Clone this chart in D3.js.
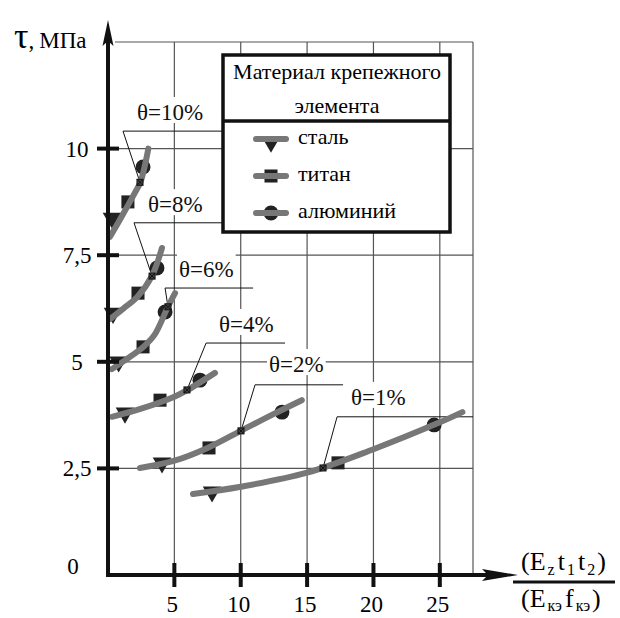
<!DOCTYPE html>
<html>
<head>
<meta charset="utf-8">
<script src="https://cdn.jsdelivr.net/npm/d3@7"></script>
<style>
  body { margin: 0; background: #fff; }
  svg text { font-family: "Liberation Serif", "Times New Roman", Times, "DejaVu Serif", serif; }
</style>
</head>
<body>
<div id="chart"></div>
<script>
// ticks
var xTicks = [5, 10, 15, 20, 25];
var yTicks = [2.5, 5, 7.5, 10];
var yTickLabels = ["2,5", "5", "7,5", "10"];

// curves tau(x) for each theta
var curve1 = [[6.4, 1.9], [10, 2.07], [15, 2.4], [20, 2.95], [25, 3.58], [26.7, 3.82]];
var curve2 = [[2.4, 2.51], [5, 2.68], [7.5, 2.98], [10, 3.38], [12.5, 3.78], [14.6, 4.1]];
var curve4 = [[0.3, 3.71], [2.5, 3.9], [5, 4.18], [6, 4.34], [8.06, 4.74]];
var curve6 = [[0.3, 4.83], [1.3, 5.04], [2.7, 5.36], [3.5, 5.63], [4.5, 6.28], [5.05, 6.61]];
var curve8 = [[0.15, 6.0], [1.2, 6.26], [2.2, 6.52], [3.3, 7.01], [4.07, 7.67]];
var curve10 = [[0.15, 7.93], [1.2, 8.5], [2.0, 8.95], [2.45, 9.22], [3.04, 10.0]];

// measured points per fastener material
var steel = [[7.84, 1.95], [4.07, 2.63], [1.28, 3.8], [0.8, 5.0], [0.38, 6.14], [0.3, 8.37]];
var titanium = [[17.33, 2.63], [7.61, 2.98], [3.92, 4.1], [2.64, 5.35], [2.26, 6.61], [1.5, 8.75]];
var aluminium = [[24.57, 3.52], [13.11, 3.82], [6.93, 4.57], [4.3, 6.17], [3.69, 7.2], [2.64, 9.57]];

var materials = ["сталь", "титан", "алюминий"];

// theta annotations
var thetaText = ["θ=1%", "θ=2%", "θ=4%", "θ=6%", "θ=8%", "θ=10%"];
var labelPos = [[18.31, 3.99], [12.13, 4.76], [8.36, 5.70], [5.35, 6.99], [3.01, 8.51], [2.19, 10.67]];
var leaderY = [3.71, 4.46, 5.44, 6.73, 8.26, 10.41];
var leaderX = [[17.26, 27.5], [11.08, 17.71], [7.39, 13.34], [4.30, 10.93], [1.96, 8.59], [1.13, 8.59]];
var leaderEnd = [[16.2, 2.51], [10.02, 3.38], [5.95, 4.34], [4.52, 6.29], [3.32, 7.01], [2.41, 9.21]];

var width = 620, height = 618;
var curveColor = "#777", markColor = "#222", gridColor = "#555";

var x = d3.scaleLinear().domain([0, 27.5]).range([108, 473]);
var y = d3.scaleLinear().domain([0, 12.5]).range([575, 42]);

var svg = d3.select("#chart").append("svg")
    .attr("width", width)
    .attr("height", height);

// grid
svg.append("g").selectAll("line")
    .data(xTicks.concat([27.5]))
    .enter().append("line")
      .attr("x1", d => x(d)).attr("x2", d => x(d))
      .attr("y1", y(12.5)).attr("y2", y(0))
      .attr("stroke", gridColor)
      .attr("stroke-width", 1.2);

svg.append("g").selectAll("line")
    .data(yTicks.concat([12.5]))
    .enter().append("line")
      .attr("x1", x(0) + 7).attr("x2", x(27.5))
      .attr("y1", d => y(d)).attr("y2", d => y(d))
      .attr("stroke", gridColor)
      .attr("stroke-width", 1.2);

// theta labels with white background
var labels = svg.append("g").selectAll("g")
    .data(thetaText)
    .enter().append("g");

labels.append("text")
    .attr("x", (d, i) => x(labelPos[i][0]))
    .attr("y", (d, i) => y(labelPos[i][1]))
    .attr("font-size", 23)
    .attr("fill", "#111")
    .text(d => d);

labels.each(function () {
  var g = d3.select(this);
  var bb = g.select("text").node().getBBox();
  g.insert("rect", "text")
    .attr("x", bb.x - 2).attr("y", bb.y - 3)
    .attr("width", bb.width + 4).attr("height", bb.height + 1)
    .attr("fill", "#fff");
});

// leader lines
var leaders = svg.append("g")
    .attr("stroke", "#111")
    .attr("stroke-width", 1)
    .attr("fill", "none");

leaders.selectAll("path")
    .data(thetaText)
    .enter().append("path")
      .attr("d", (d, i) => "M" + x(leaderX[i][1]) + "," + y(leaderY[i]) +
        "H" + x(leaderX[i][0]) +
        "L" + x(leaderEnd[i][0]) + "," + y(leaderEnd[i][1]));

// markers
var triDown = d3.symbol().type(d3.symbolTriangle).size(150);
var square = d3.symbol().type(d3.symbolSquare).size(170);
var circle = d3.symbol().type(d3.symbolCircle).size(175);

function drawMarks(data, sym, rot) {
  svg.append("g").selectAll("path")
    .data(data)
    .enter().append("path")
      .attr("d", sym)
      .attr("transform", d => `translate(${x(d[0])},${y(d[1])}) rotate(${rot})`)
      .attr("fill", markColor);
}
drawMarks(steel, triDown, 180);
drawMarks(titanium, square, 0);
drawMarks(aluminium, circle, 0);

// curves
var line = d3.line()
    .x(d => x(d[0]))
    .y(d => y(d[1]))
    .curve(d3.curveCatmullRom);

svg.append("g").selectAll("path")
    .data([curve1, curve2, curve4, curve6, curve8, curve10])
    .enter().append("path")
      .attr("d", line)
      .attr("fill", "none")
      .attr("stroke", curveColor)
      .attr("stroke-width", 6)
      .attr("stroke-linecap", "round");

// small crossed squares where leaders touch the curves
var ends = svg.append("g").selectAll("g")
    .data(leaderEnd)
    .enter().append("g")
      .attr("transform", d => `translate(${x(d[0])},${y(d[1])})`);
ends.append("rect")
    .attr("x", -3).attr("y", -3).attr("width", 6).attr("height", 6)
    .attr("fill", "#444").attr("stroke", "#111");
ends.append("path")
    .attr("d", "M-3,-3L3,3M3,-3L-3,3")
    .attr("stroke", "#111");

// axes
svg.append("line")
    .attr("x1", x(0)).attr("x2", x(0))
    .attr("y1", y(0) + 2).attr("y2", 40)
    .attr("stroke", "#111").attr("stroke-width", 4);
svg.append("path")
    .attr("d", `M${x(0)},20 L${x(0) + 5.5},46 L${x(0)},41 L${x(0) - 5.5},46 Z`)
    .attr("fill", "#111");

svg.append("line")
    .attr("x1", x(0) - 2).attr("x2", 500)
    .attr("y1", y(0)).attr("y2", y(0))
    .attr("stroke", "#111").attr("stroke-width", 4);
svg.append("path")
    .attr("d", `M518,${y(0)} L482,${y(0) - 6} L488,${y(0)} L482,${y(0) + 6} Z`)
    .attr("fill", "#111");

svg.append("g").selectAll("line")
    .data(xTicks)
    .enter().append("line")
      .attr("x1", d => x(d)).attr("x2", d => x(d))
      .attr("y1", y(0) - 12).attr("y2", y(0) + 12)
      .attr("stroke", "#111").attr("stroke-width", 4);

svg.append("g").selectAll("line")
    .data(yTicks)
    .enter().append("line")
      .attr("x1", x(0) - 11).attr("x2", x(0) + 11)
      .attr("y1", d => y(d)).attr("y2", d => y(d))
      .attr("stroke", "#111").attr("stroke-width", 4);

svg.append("g").selectAll("text")
    .data(xTicks)
    .enter().append("text")
      .attr("x", d => x(d) - 2)
      .attr("y", 612)
      .attr("text-anchor", "middle")
      .attr("font-size", 23)
      .text(d => d);

svg.append("g").selectAll("text")
    .data(yTicks)
    .enter().append("text")
      .attr("x", 77)
      .attr("y", d => y(d) + 8)
      .attr("text-anchor", "middle")
      .attr("font-size", 23)
      .text((d, i) => yTickLabels[i]);

svg.append("text")
    .attr("x", 73).attr("y", y(0) - 1)
    .attr("text-anchor", "middle")
    .attr("font-size", 23)
    .text("0");

// axis titles
var yTitle = svg.append("text")
    .attr("x", 14).attr("y", 48);
yTitle.append("tspan").attr("font-size", 36).text("τ");
yTitle.append("tspan").attr("font-size", 23).text(",");
yTitle.append("tspan").attr("font-size", 23).attr("dx", 5).text("МПа");

var num = svg.append("text").attr("x", 521).attr("y", 570).attr("font-size", 26);
num.append("tspan").text("(E");
num.append("tspan").attr("font-size", 16).attr("dx", 2).attr("dy", 5).text("z");
num.append("tspan").attr("dx", 3).attr("dy", -5).text("t");
num.append("tspan").attr("font-size", 16).attr("dx", 2).attr("dy", 5).text("1");
num.append("tspan").attr("dx", 3).attr("dy", -5).text("t");
num.append("tspan").attr("font-size", 16).attr("dx", 2).attr("dy", 5).text("2");
num.append("tspan").attr("dx", 2).attr("dy", -5).text(")");

svg.append("line")
    .attr("x1", 513).attr("x2", 615)
    .attr("y1", 582).attr("y2", 582)
    .attr("stroke", "#111").attr("stroke-width", 3);

var den = svg.append("text").attr("x", 521).attr("y", 607).attr("font-size", 26);
den.append("tspan").text("(E");
den.append("tspan").attr("font-size", 16).attr("dx", 2).attr("dy", 4).text("кэ");
den.append("tspan").attr("dx", 3).attr("dy", -4).text("f");
den.append("tspan").attr("font-size", 16).attr("dx", 2).attr("dy", 4).text("кэ");
den.append("tspan").attr("dx", 2).attr("dy", -4).text(")");

// legend
var legend = svg.append("g");
legend.append("rect")
    .attr("x", 223).attr("y", 55)
    .attr("width", 227).attr("height", 177)
    .attr("fill", "#fff")
    .attr("stroke", "#111").attr("stroke-width", 3.5);
legend.append("line")
    .attr("x1", 223).attr("x2", 450)
    .attr("y1", 121).attr("y2", 121)
    .attr("stroke", "#111").attr("stroke-width", 3.5);
legend.append("text")
    .attr("x", 337).attr("y", 79)
    .attr("text-anchor", "middle")
    .attr("font-size", 22)
    .text("Материал крепежного");
legend.append("text")
    .attr("x", 337).attr("y", 113)
    .attr("text-anchor", "middle")
    .attr("font-size", 22)
    .text("элемента");

var legendSyms = [triDown, square, circle];
var item = legend.selectAll("g.item")
    .data(materials)
    .enter().append("g")
      .attr("class", "item")
      .attr("transform", (d, i) => `translate(0,${139 + i * 37})`);

item.append("path")
    .attr("d", (d, i) => legendSyms[i]())
    .attr("transform", (d, i) => `translate(271,${i == 0 ? 3 : 0}) rotate(${i == 0 ? 180 : 0})`)
    .attr("fill", markColor);
item.append("line")
    .attr("x1", 256).attr("x2", 286)
    .attr("stroke", curveColor).attr("stroke-width", 6)
    .attr("stroke-linecap", "round");
item.append("text")
    .attr("x", 298).attr("y", 5)
    .attr("font-size", 22)
    .text(d => d);
</script>
</body>
</html>
